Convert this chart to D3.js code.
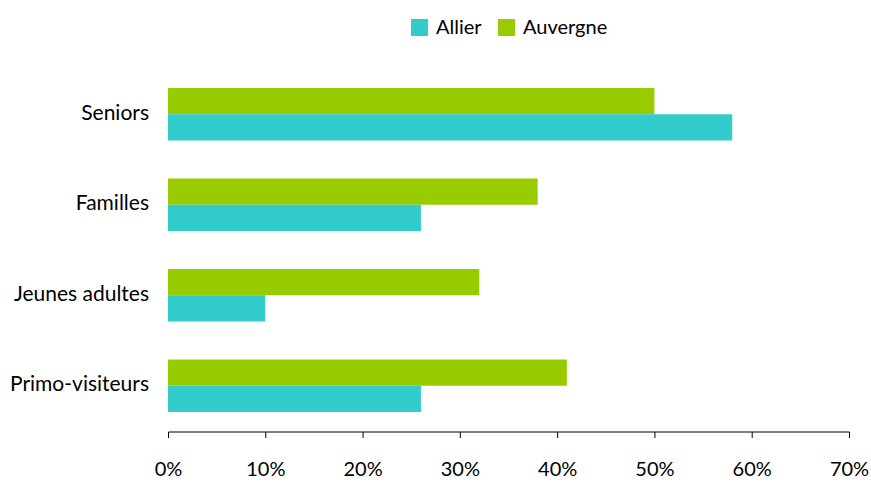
<!DOCTYPE html>
<html>
<head>
<meta charset="utf-8">
<script src="https://cdn.jsdelivr.net/npm/d3@7"></script>
<style>
  body { margin: 0; background: #fff; }
  text { font-family: Lato, "Open Sans", sans-serif; fill: #000; }
</style>
</head>
<body>
<div id="vis-container"></div>
<script>
const categories = ["Seniors", "Familles", "Jeunes adultes", "Primo-visiteurs"];
const seriesNames = ["Auvergne", "Allier"];
const auvergne = [50, 38, 32, 41];
const allier = [58, 26, 10, 26];
const xTicks = [0, 10, 20, 30, 40, 50, 60, 70];

const colors = { Allier: "#33cccc", Auvergne: "#99cc00" };

const margin = { top: 69, right: 22, bottom: 51, left: 168 },
      width = 871 - margin.left - margin.right,
      height = 482 - margin.top - margin.bottom;

const svg = d3.select("#vis-container")
  .append("svg")
    .attr("width", 871)
    .attr("height", 482);

const g = svg.append("g")
    .attr("transform", `translate(${margin.left},${margin.top})`);

const data = categories.map((c, i) => ({ cat: c, Auvergne: auvergne[i], Allier: allier[i] }));

const x = d3.scaleLinear().domain([0, 70]).range([0, width]);

const y0 = d3.scaleBand()
  .domain(categories)
  .range([0, height])
  .paddingInner(0.42)
  .paddingOuter(0.21);

const y1 = d3.scaleBand()
  .domain(seriesNames)
  .range([0, y0.bandwidth()]);

// Bars
const groups = g.selectAll(".grp")
  .data(data)
  .join("g")
    .attr("transform", d => `translate(0,${y0(d.cat)})`);

groups.selectAll("rect")
  .data(d => seriesNames.map(s => ({ s, v: d[s] })))
  .join("rect")
    .attr("x", 0)
    .attr("y", d => y1(d.s))
    .attr("width", d => x(d.v))
    .attr("height", y1.bandwidth())
    .attr("fill", d => colors[d.s]);

// Category labels
g.selectAll(".cat")
  .data(categories)
  .join("text")
    .attr("x", -19)
    .attr("y", d => y0(d) + y0.bandwidth() / 2 - 2)
    .attr("dy", "0.35em")
    .attr("text-anchor", "end")
    .style("font-size", "21px")
    .text(d => d);

// X axis
const xAxis = g.append("g")
  .attr("transform", `translate(0,${height + 1})`)
  .call(d3.axisBottom(x).tickValues(xTicks).tickSize(6).tickPadding(24).tickFormat(d => d + "%"));

xAxis.select(".domain").attr("stroke", "#000").attr("d", `M0.5,0H${width + 0.5}`);
xAxis.selectAll(".tick line").attr("stroke", "#000");
xAxis.selectAll(".tick text")
  .style("font-size", "20px")
  .style("font-family", "Lato, 'Open Sans', sans-serif");

// Legend
const legendItems = [
  { name: "Allier", x: 411 },
  { name: "Auvergne", x: 498 }
];
const legend = svg.append("g");
legendItems.forEach(item => {
  legend.append("rect")
    .attr("x", item.x)
    .attr("y", 19)
    .attr("width", 17)
    .attr("height", 17)
    .attr("fill", colors[item.name]);
  legend.append("text")
    .attr("x", item.x + 25)
    .attr("y", 26.5)
    .attr("dy", "0.35em")
    .style("font-size", "20px")
    .text(item.name);
});
</script>
</body>
</html>
